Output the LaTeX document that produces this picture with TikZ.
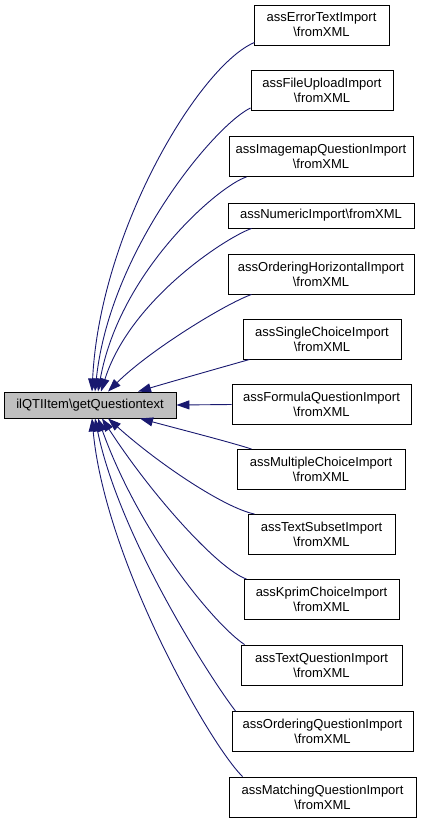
\documentclass[tikz,border=0pt]{standalone}
\usepackage{fontspec}
\setmainfont{Liberation Sans}
\usetikzlibrary{arrows.meta,calc}
\definecolor{edgeblue}{RGB}{25,25,112}
\definecolor{maingray}{RGB}{191,191,191}
\tikzset{
  box/.style={draw=black, line width=0.9pt, fill=white, inner sep=0pt, align=center,
    font=\fontsize{13}{15}\selectfont, minimum height=40pt},
  mainbox/.style={box, fill=maingray, minimum height=26pt},
  edge/.style={draw=edgeblue, line width=0.9pt, -{Triangle[length=13pt,width=9pt]}}
}
\begin{document}
\begin{tikzpicture}[x=1pt,y=-1pt]
\useasboundingbox (0,0) rectangle (424,823);
\node[mainbox, minimum width=172pt] (main) at (90,405) {ilQTIItem\textbackslash getQuestiontext};

\node[box, minimum width=135pt] (n1) at (321.5,25) {assErrorTextImport\\\textbackslash fromXML};
\node[box, minimum width=142pt] (n2) at (322,90.5) {assFileUploadImport\\\textbackslash fromXML};
\node[box, minimum width=184pt] (n3) at (321,156.5) {assImagemapQuestionImport\\\textbackslash fromXML};
\node[box, minimum width=186pt, minimum height=25pt] (n4) at (321,215.5) {assNumericImport\textbackslash fromXML};
\node[box, minimum width=186pt] (n5) at (321,274) {assOrderingHorizontalImport\\\textbackslash fromXML};
\node[box, minimum width=158pt] (n6) at (322,339) {assSingleChoiceImport\\\textbackslash fromXML};
\node[box, minimum width=179pt] (n7) at (321.5,404.5) {assFormulaQuestionImport\\\textbackslash fromXML};
\node[box, minimum width=168pt] (n8) at (321,469.5) {assMultipleChoiceImport\\\textbackslash fromXML};
\node[box, minimum width=147pt] (n9) at (321.5,534.5) {assTextSubsetImport\\\textbackslash fromXML};
\node[box, minimum width=155pt] (n10) at (321.5,599.5) {assKprimChoiceImport\\\textbackslash fromXML};
\node[box, minimum width=161pt] (n11) at (321.5,665) {assTextQuestionImport\\\textbackslash fromXML};
\node[box, minimum width=181pt] (n12) at (322.5,731.5) {assOrderingQuestionImport\\\textbackslash fromXML};
\node[box, minimum width=187pt] (n13) at (322.5,797) {assMatchingQuestionImport\\\textbackslash fromXML};

% upper edges
\draw[edge] ($(n1.south west)+(1,-3)$) .. controls (200,65) and (100,230) .. ($(main.north)+(2,0)$);
\draw[edge] ($(n2.south west)+(0,-3)$) .. controls (215,125) and (110,250) .. ($(main.north)+(5,0)$);
\draw[edge] ($(n3.south west)+(18,0)$) .. controls (220,185) and (120,270) .. ($(main.north)+(8,0)$);
\draw[edge] ($(n4.south west)+(24,0)$) .. controls (225,238) and (130,300) .. ($(main.north)+(11,0)$);
\draw[edge] ($(n5.south west)+(24,0)$) .. controls (225,304) and (150,350) .. ($(main.north)+(18,0)$);
\draw[edge] ($(n6.south west)+(7,0)$) .. controls (230,365) and (170,382) .. ($(main.north)+(48,0)$);
% middle edge
\draw[edge] (n7.west) -- (main.east);
% lower edges
\draw[edge] ($(n8.north west)+(15,0)$) .. controls (230,442) and (175,428) .. ($(main.south)+(50,0)$);
\draw[edge] ($(n9.north west)+(7,0)$) .. controls (225,508) and (160,465) .. ($(main.south)+(18,0)$);
\draw[edge] ($(n10.north west)+(3,0)$) .. controls (220,570) and (155,500) .. ($(main.south)+(12,0)$);
\draw[edge] ($(n11.north west)+(4,0)$) .. controls (215,625) and (140,535) .. ($(main.south)+(8,0)$);
\draw[edge] ($(n12.north west)+(4,0)$) .. controls (215,685) and (120,540) .. ($(main.south)+(5,0)$);
\draw[edge] ($(n13.north west)+(14,0)$) .. controls (210,745) and (105,560) .. ($(main.south)+(2,0)$);
\end{tikzpicture}
\end{document}
